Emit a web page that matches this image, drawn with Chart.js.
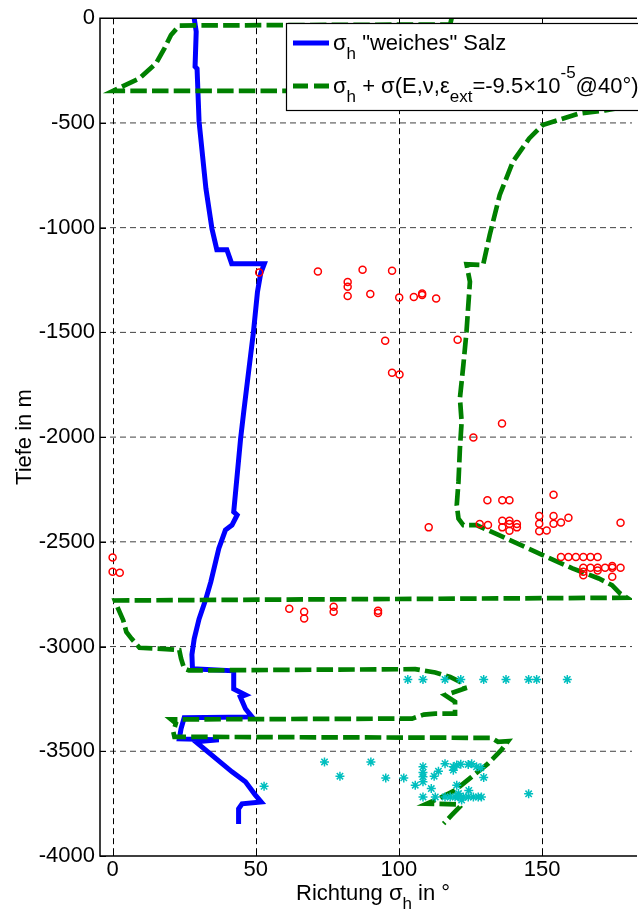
<!DOCTYPE html>
<html>
<head>
<meta charset="utf-8">
<title>Richtung sigma_h</title>
<script src="https://cdn.jsdelivr.net/npm/chart.js@4.4.0/dist/chart.umd.min.js"></script>
<style>
  html, body { margin: 0; padding: 0; background: #fff; }
  #wrap { width: 638px; height: 911px; }
</style>
</head>
<body>
<div id="wrap"><canvas id="chart" width="638" height="911"></canvas></div>
<script>
const FONT = '"Liberation Sans", Arial, Helvetica, sans-serif';

// axes
const xTicks = [0, 50, 100, 150];
const yTicks = [0, -500, -1000, -1500, -2000, -2500, -3000, -3500, -4000];

// sigma_h "weiches" Salz (blue line)
const softX = [28.5, 29.2, 28.8, 29.5, 30.2, 32.6, 34.7, 36.4, 39.9, 41.6, 53.0, 51.7, 50.6, 49.2, 45.8, 44.7,
  42.3, 43.5, 41.7, 39.4, 37.1, 34.3, 32.6, 30.2, 28.5, 27.7, 27.9, 42.3, 42.3, 46.4, 44.6, 46.4, 48.7,
  25.0, 23.9, 23.3, 37.1, 29.1, 41.7, 46.4, 49.8, 51.9, 45.2, 44.0, 44.0];
const softY = [0, -64, -231, -241, -494, -814, -1005, -1105, -1105, -1172, -1172, -1220, -1306, -1497, -1879, -2008,
  -2357, -2372, -2420, -2444, -2532, -2691, -2772, -2868, -2963, -3039, -3106, -3116, -3202, -3231, -3240, -3297, -3336,
  -3340, -3393, -3441, -3445, -3455, -3598, -3646, -3708, -3742, -3751, -3775, -3847];

// sigma_h + sigma(E,nu,eps_ext) (green dashed)
const extX = [118.4, 117.9, 23.3, 20.4, 18.1, 15.2, 9.4, 0.2, 180, 180, 172, 162.7, 150.2, 145.5, 139.8, 135.2,
  131.7, 129.4, 123.6, 124.8, 123.6, 122.5, 121.3, 121.9, 121.3, 120.8, 120.2, 120.8, 122.5, 127.1, 137.5,
  150.2, 160.6, 169.8, 174.4, 177.3, 179.6, 0.8, 1.9, 3.7, 4.8, 6.6, 9.4, 18.7, 23.3, 23.9, 25.0, 26.7,
  105.7, 112.7, 117.9, 122.5, 123.0, 116.1, 119.6, 119.6, 112.7, 108.7, 104.6, 20.4, 22.1, 21.2, 21.6,
  132.3, 134.6, 138.1, 135.7, 131.1, 125.4, 119.6, 113.8, 109.8, 120.8, 121.3, 118.4, 115.6];
const extY = [0, -30, -35, -80, -144, -215, -287, -347, -347, -420, -440, -456, -510, -574, -685, -844,
  -1035, -1178, -1175, -1258, -1497, -1656, -1815, -1927, -2054, -2213, -2324, -2389, -2420, -2420, -2484,
  -2563, -2627, -2675, -2707, -2747, -2767, -2780, -2818, -2874, -2930, -2962, -3006, -3012, -3017, -3057, -3105, -3114,
  -3108, -3124, -3145, -3176, -3200, -3232, -3264, -3320, -3320, -3325, -3344, -3348, -3367, -3407, -3431,
  -3436, -3455, -3452, -3495, -3559, -3622, -3686, -3726, -3750, -3754, -3765, -3805, -3845];

// red circles
const circX = [51.2, 71.7, 87.3, 97.6, 82.1, 82.1, 82.1, 90.0, 100.1, 105.2, 108.1, 108.1, 113.0, 95.2, 120.5,
  97.6, 100.2, 136.0, 126.0, 110.4,
  130.9, 136.1, 138.6, 154.0, 128.2, 131.1, 136.1, 138.6, 138.6, 141.2, 141.2, 136.1, 138.6, 149.0, 149.0,
  149.0, 151.6, 154.0, 154.0, 156.6, 159.2, 177.4,
  156.6, 159.2, 161.8, 164.4, 166.9, 169.4,
  164.4, 166.9, 169.4, 172.0, 174.5, 177.4,
  164.4, 169.4, 174.5, 164.4, 174.5,
  0, 0, 2.5,
  61.7, 66.9, 66.9, 77.2, 77.2, 92.7, 92.7];
const circY = [-1214, -1209, -1201, -1206, -1259, -1282, -1326, -1317, -1333, -1331, -1314, -1322, -1338, -1540, -1535,
  -1693, -1701, -1935, -2002, -2431,
  -2302, -2302, -2302, -2275, -2415, -2420, -2399, -2399, -2415, -2415, -2431, -2431, -2447, -2377, -2414,
  -2449, -2446, -2377, -2414, -2408, -2385, -2409,
  -2573, -2573, -2573, -2573, -2573, -2573,
  -2624, -2624, -2624, -2624, -2624, -2624,
  -2643, -2637, -2616, -2659, -2667,
  -2575, -2643, -2648,
  -2820, -2834, -2866, -2810, -2834, -2829, -2840];

// cyan stars
const starX = [103.1, 108.4, 116.1, 121.6, 129.6, 137.4, 145.3, 148.1, 158.8,
  52.9, 74.0, 79.4, 90.2, 95.4, 101.7, 105.7, 108.4, 108.4, 108.4, 108.4, 108.4, 111.3, 112.3, 113.8,
  116.1, 119.0, 119.0, 120.2, 121.6, 124.2, 125.4, 127.1, 128.6, 129.6, 120.2, 120.8, 124.4,
  112.7, 116.1, 117.9, 119.6, 120.8, 122.5, 124.2, 126.0, 127.7, 128.8, 145.3, 121.9];
const starY = [-3157, -3157, -3157, -3157, -3157, -3157, -3157, -3157, -3157,
  -3667, -3551, -3619, -3551, -3627, -3627, -3662, -3574, -3601, -3622, -3646, -3718, -3678, -3619, -3595,
  -3559, -3590, -3574, -3566, -3562, -3563, -3560, -3574, -3579, -3625, -3662, -3702, -3687,
  -3718, -3718, -3718, -3718, -3718, -3718, -3718, -3718, -3718, -3718, -3703, -3733];

function toPoints(xs, ys) {
  return xs.map((x, i) => ({ x: x, y: ys[i] }));
}

// text with sub/superscripts, kind 0 normal, 1 sub, 2 sup
function drawRich(ctx, x, y, parts) {
  parts.forEach(p => {
    const small = p[1] !== 0;
    ctx.font = (small ? 17 : 22) + 'px ' + FONT;
    const dy = p[1] === 1 ? 9 : (p[1] === 2 ? -15 : 0);
    ctx.fillText(p[0], x, y + dy);
    x += ctx.measureText(p[0]).width;
  });
  return x;
}

const matlabAxes = {
  id: 'matlabAxes',
  beforeDatasetsDraw(chart) {
    const { ctx, chartArea: a, scales: { x, y } } = chart;
    ctx.save();
    ctx.strokeStyle = '#000';
    ctx.lineWidth = 1;
    ctx.setLineDash([6, 4]);
    xTicks.forEach(v => {
      const px = Math.round(x.getPixelForValue(v)) + 0.5;
      ctx.beginPath(); ctx.moveTo(px, a.top); ctx.lineTo(px, a.bottom); ctx.stroke();
    });
    ctx.strokeStyle = 'rgba(0,0,0,0.75)';
    yTicks.slice(1, -1).forEach(v => {
      const py = y.getPixelForValue(v);
      ctx.beginPath(); ctx.moveTo(a.left, py); ctx.lineTo(a.right, py); ctx.stroke();
    });
    ctx.restore();
  },
  afterDatasetsDraw(chart) {
    const { ctx, chartArea: a, scales: { x, y } } = chart;
    ctx.save();
    // box (right side is cut off in the figure) and inward ticks
    ctx.strokeStyle = '#000';
    ctx.lineWidth = 1.5;
    ctx.beginPath();
    ctx.moveTo(a.right + 5, a.top); ctx.lineTo(a.left, a.top);
    ctx.lineTo(a.left, a.bottom); ctx.lineTo(a.right + 5, a.bottom);
    ctx.stroke();
    ctx.lineWidth = 1;
    ctx.beginPath();
    xTicks.forEach(v => {
      const px = Math.round(x.getPixelForValue(v)) + 0.5;
      ctx.moveTo(px, a.bottom); ctx.lineTo(px, a.bottom - 6);
      ctx.moveTo(px, a.top); ctx.lineTo(px, a.top + 6);
    });
    yTicks.forEach(v => {
      const py = Math.round(y.getPixelForValue(v)) + 0.5;
      ctx.moveTo(a.left, py); ctx.lineTo(a.left + 6, py);
    });
    ctx.stroke();

    // legend
    ctx.fillStyle = '#fff';
    ctx.fillRect(286, 23, 360, 87);
    ctx.strokeStyle = '#000';
    ctx.lineWidth = 1.2;
    ctx.strokeRect(286.5, 23.5, 360, 87);
    ctx.lineWidth = 5;
    ctx.strokeStyle = '#0000ff';
    ctx.beginPath(); ctx.moveTo(293, 43); ctx.lineTo(329, 43); ctx.stroke();
    ctx.strokeStyle = '#008000';
    ctx.setLineDash([15, 6]);
    ctx.beginPath(); ctx.moveTo(293, 86); ctx.lineTo(329, 86); ctx.stroke();
    ctx.setLineDash([]);
    ctx.fillStyle = '#000';
    ctx.textBaseline = 'alphabetic';
    ctx.textAlign = 'left';
    drawRich(ctx, 333, 50, [['σ', 0], ['h', 1], [' "weiches" Salz', 0]]);
    drawRich(ctx, 333, 93, [['σ', 0], ['h', 1], [' + σ(E,ν,ε', 0], ['ext', 1], ['=-9.5×10', 0], ['-5', 2], ['@40°)', 0]]);

    // axis titles
    drawRich(ctx, 296, 900, [['Richtung σ', 0], ['h', 1], [' in °', 0]]);
    ctx.translate(25, (a.top + a.bottom) / 2);
    ctx.rotate(-Math.PI / 2);
    ctx.textAlign = 'center';
    ctx.textBaseline = 'middle';
    ctx.font = '22px ' + FONT;
    ctx.fillText('Tiefe in m', 0, 0);
    ctx.restore();
  }
};

const ctxDepth = document.getElementById('chart').getContext('2d');
new Chart(ctxDepth, {
  type: 'scatter',
  data: {
    datasets: [
      {
        label: 'Messungen',
        data: toPoints(circX, circY),
        pointStyle: 'circle',
        pointRadius: 3.5,
        borderColor: '#ff0000',
        backgroundColor: 'rgba(0,0,0,0)',
        borderWidth: 1.5,
        order: 0
      },
      {
        label: 'Sterne',
        data: toPoints(starX, starY),
        pointStyle: 'star',
        pointRadius: 4.5,
        borderColor: '#00bfbf',
        backgroundColor: '#00bfbf',
        borderWidth: 1.5,
        order: 1
      },
      {
        label: 'σh + σ(E,ν,εext)',
        data: toPoints(extX, extY),
        showLine: true,
        borderColor: '#008000',
        borderWidth: 4.7,
        borderDash: [16.5, 5.2],
        pointRadius: 0,
        tension: 0,
        order: 2
      },
      {
        label: 'σh "weiches" Salz',
        data: toPoints(softX, softY),
        showLine: true,
        borderColor: '#0000ff',
        borderWidth: 5,
        pointRadius: 0,
        tension: 0,
        order: 3
      }
    ]
  },
  options: {
    responsive: false,
    animation: false,
    devicePixelRatio: 1,
    events: [],
    layout: { padding: { top: 17, right: 1, left: 0, bottom: 0 } },
    plugins: { legend: { display: false }, tooltip: { enabled: false } },
    scales: {
      x: {
        type: 'linear',
        position: 'bottom',
        min: -4.4,
        max: 181.4,
        afterBuildTicks: s => { s.ticks = xTicks.map(v => ({ value: v })); },
        afterFit: s => { s.height = 55; },
        grid: { display: false, drawTicks: false },
        border: { display: false },
        ticks: {
          color: '#000', font: { family: FONT, size: 22 }, padding: 1, maxRotation: 0, autoSkip: false,
          callback: v => String(v)
        }
      },
      y: {
        type: 'linear',
        position: 'left',
        min: -4000,
        max: 0,
        afterBuildTicks: s => { s.ticks = yTicks.map(v => ({ value: v })); },
        afterFit: s => { s.width = 100; },
        grid: { display: false, drawTicks: false },
        border: { display: false },
        ticks: {
          color: '#000', font: { family: FONT, size: 22 }, padding: 5, autoSkip: false,
          callback: v => String(v)
        }
      }
    }
  },
  plugins: [matlabAxes]
});
</script>
</body>
</html>
